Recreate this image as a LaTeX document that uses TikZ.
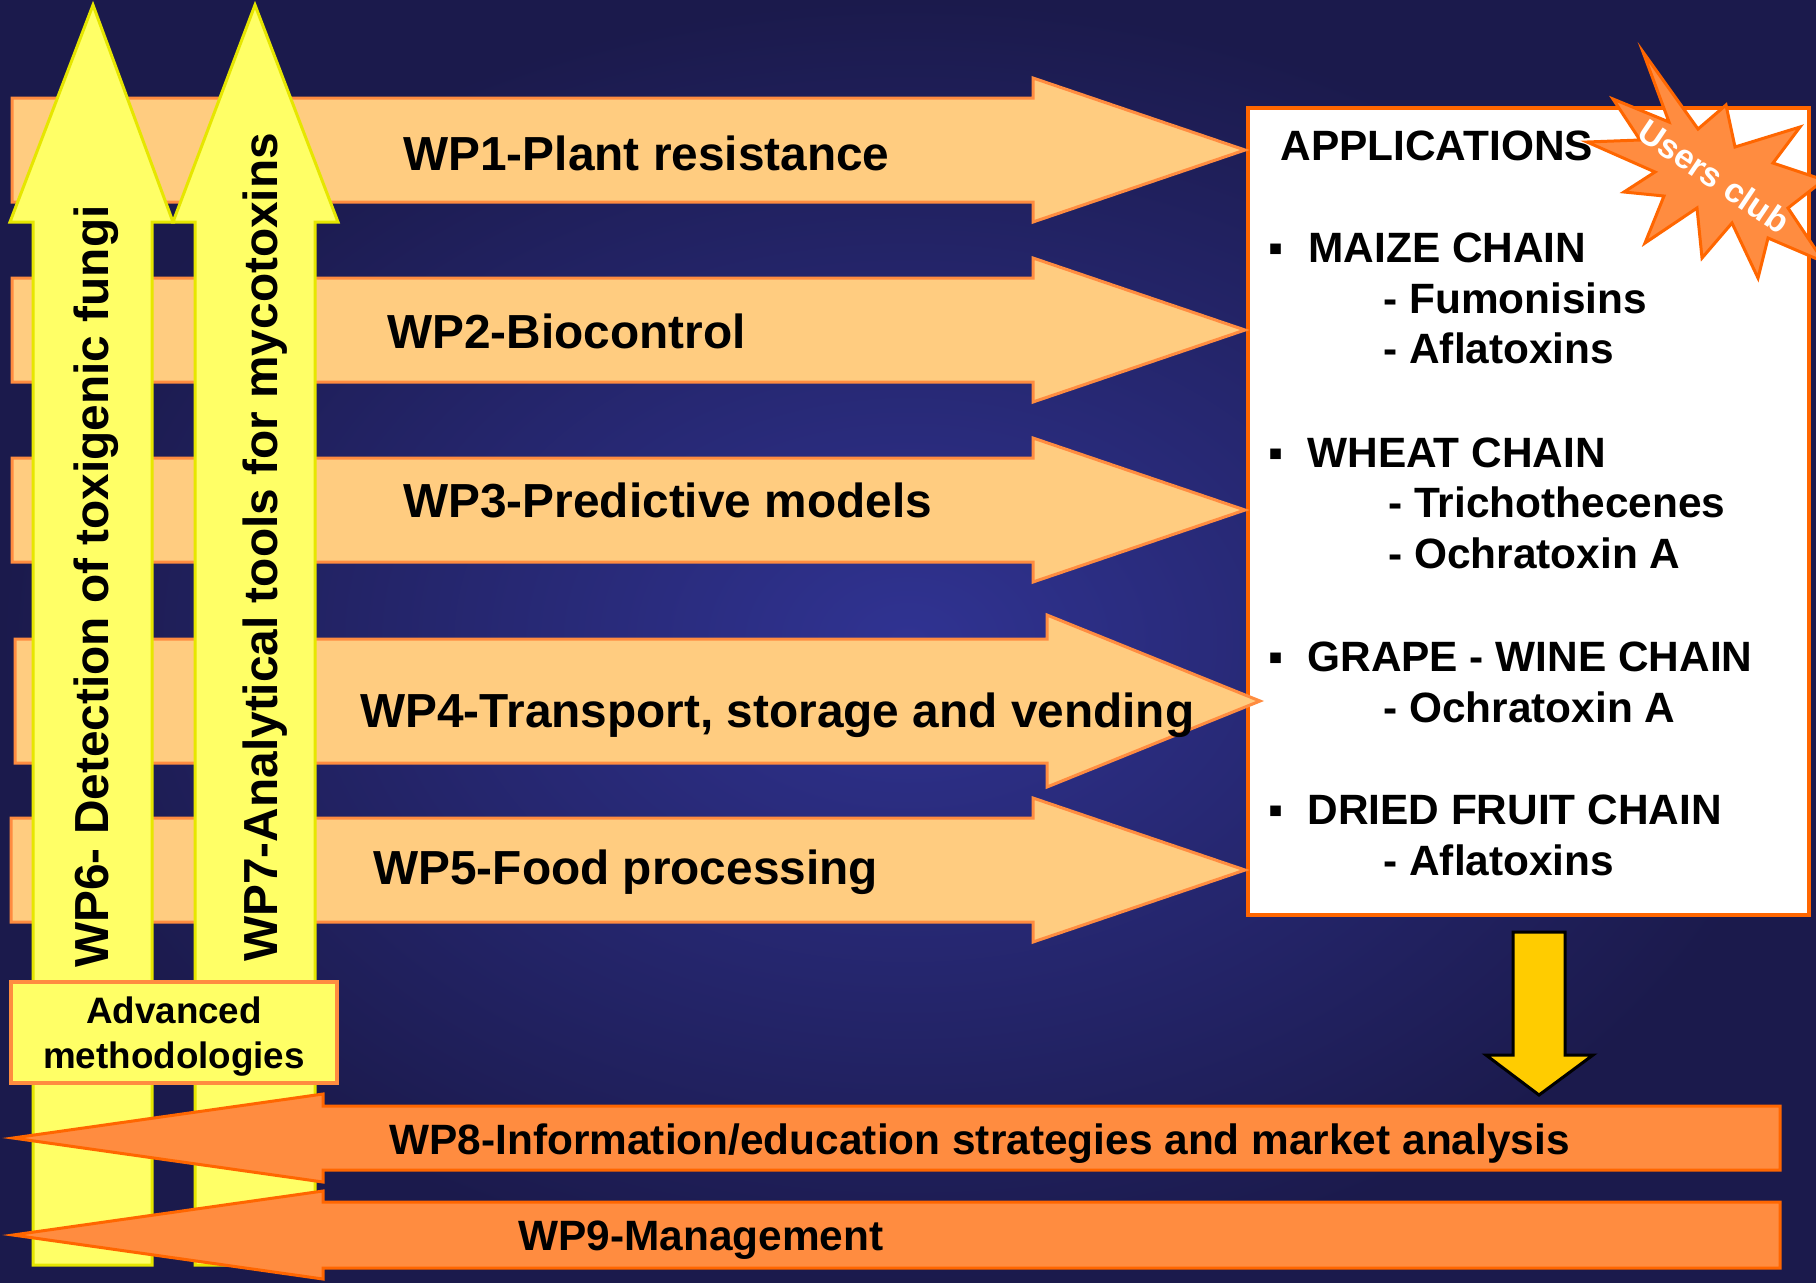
\documentclass[tikz,border=0pt]{standalone}
\usepackage{fontspec}
\setmainfont{Liberation Sans}
\usepackage{tikz}

\definecolor{bgInner}{RGB}{48,51,146}
\definecolor{bgOuter}{RGB}{27,26,76}
\definecolor{wpFill}{RGB}{255,204,128}
\definecolor{wpLine}{RGB}{255,140,64}
\definecolor{ylFill}{RGB}{255,255,102}
\definecolor{ylLine}{RGB}{230,230,0}
\definecolor{mgFill}{RGB}{255,140,64}
\definecolor{mgLine}{RGB}{255,102,0}
\definecolor{dnFill}{RGB}{255,204,0}

\tikzset{
  wparrow/.style={draw=wpLine, fill=wpFill, line width=1.5pt},
  ylarrow/.style={draw=ylLine, fill=ylFill, line width=1.5pt},
  mgarrow/.style={draw=mgLine, fill=mgFill, line width=1.5pt},
  wplabel/.style={font=\fontsize{23.9}{28}\selectfont\bfseries, anchor=base west, inner sep=0pt},
  applabel/.style={font=\fontsize{21.2}{25}\selectfont\bfseries, anchor=base west, inner sep=0pt},
  methlabel/.style={font=\fontsize{18.4}{22}\selectfont\bfseries, anchor=base, inner sep=0pt},
}

\begin{document}
\begin{tikzpicture}[x=0.5pt,y=0.5pt,yscale=-1,xscale=1]
\useasboundingbox (0,0) rectangle (1816,1282);

%Background [id:dp0001]
\draw [draw opacity=0][shading=radial, inner color=bgInner, outer color=bgOuter] (0,0) -- (1816,0) -- (1816,1282) -- (0,1282) -- cycle ;

%Shape: Rectangle [id:dp0002]
\draw [draw=mgLine, fill=white, line width=2pt] (1248,108) -- (1809,108) -- (1809,915) -- (1248,915) -- cycle ;

%Shape: Right Arrow [id:dp0003]
\draw [wparrow] (12,98) -- (1033,98) -- (1033,78) -- (1245,150) -- (1033,222) -- (1033,202) -- (12,202) -- cycle ;
%Shape: Right Arrow [id:dp0004]
\draw [wparrow] (12,278) -- (1033,278) -- (1033,258) -- (1245,330) -- (1033,402) -- (1033,382) -- (12,382) -- cycle ;
%Shape: Right Arrow [id:dp0005]
\draw [wparrow] (12,458) -- (1033,458) -- (1033,438) -- (1245,510) -- (1033,582) -- (1033,562) -- (12,562) -- cycle ;
%Shape: Right Arrow [id:dp0006]
\draw [wparrow] (15,639) -- (1047,639) -- (1047,615) -- (1260,701) -- (1047,787) -- (1047,763) -- (15,763) -- cycle ;
%Shape: Right Arrow [id:dp0007]
\draw [wparrow] (11,818) -- (1033,818) -- (1033,798) -- (1245,870) -- (1033,942) -- (1033,922) -- (11,922) -- cycle ;

% Text Node
\draw (403,170) node (wp1) [wplabel] {WP1-Plant resistance};
% Text Node
\draw (387,348) node (wp2) [wplabel] {WP2-Biocontrol};
% Text Node
\draw (403,517) node (wp3) [wplabel] {WP3-Predictive models};
% Text Node
\draw (360,727) node (wp4) [wplabel] {WP4-Transport, storage and vending};
% Text Node
\draw (373,884) node (wp5) [wplabel] {WP5-Food processing};

%Shape: Up Arrow [id:dp0008]
\draw [ylarrow] (93,5) -- (173,222) -- (152,222) -- (152,1265) -- (33,1265) -- (33,222) -- (10,222) -- cycle ;
%Shape: Up Arrow [id:dp0009]
\draw [ylarrow] (255,5) -- (338,222) -- (315,222) -- (315,1265) -- (195,1265) -- (195,222) -- (173,222) -- cycle ;

% Text Node
\draw (108,968) node (wp6) [wplabel, rotate=90] {WP6- Detection of toxigenic fungi};
% Text Node
\draw (277,962) node (wp7) [wplabel, rotate=90] {WP7-Analytical tools for mycotoxins};

%Shape: Rectangle [id:dp0010]
\draw [draw=wpLine, fill=ylFill, line width=2pt] (11,982) -- (337,982) -- (337,1083) -- (11,1083) -- cycle ;
% Text Node
\draw (174,1023) node (adv) [methlabel] {Advanced};
% Text Node
\draw (174,1068) node (meth) [methlabel] {methodologies};

%Shape: Left Arrow [id:dp0011]
\draw [mgarrow] (13,1138) -- (323,1094) -- (323,1106) -- (1780,1106) -- (1780,1170) -- (323,1170) -- (323,1182) -- cycle ;
%Shape: Left Arrow [id:dp0012]
\draw [mgarrow] (13,1235) -- (323,1191) -- (323,1202) -- (1780,1202) -- (1780,1268) -- (323,1268) -- (323,1279) -- cycle ;

% Text Node
\draw (389,1154) node (wp8) [applabel] {WP8-Information/education strategies and market analysis};
% Text Node
\draw (518,1250) node (wp9) [applabel] {WP9-Management};

%Shape: Down Arrow [id:dp0013]
\draw [draw=black, fill=dnFill, line width=1.5pt] (1513,932) -- (1565,932) -- (1565,1055) -- (1593,1055) -- (1539,1095) -- (1486,1055) -- (1513,1055) -- cycle ;

% Text Node
\draw (1280,160) node (apps) [applabel] {APPLICATIONS};
% Text Node
\draw (1268,262) node (b1) [applabel] {▪};
\draw (1308,262) node (maize) [applabel] {MAIZE CHAIN};
\draw (1383,313) node (fumo) [applabel] {- Fumonisins};
\draw (1383,363) node (afla1) [applabel] {- Aflatoxins};
% Text Node
\draw (1268,467) node (b2) [applabel] {▪};
\draw (1307,467) node (wheat) [applabel] {WHEAT CHAIN};
\draw (1388,517) node (tric) [applabel] {- Trichothecenes};
\draw (1388,568) node (ochr1) [applabel] {- Ochratoxin A};
% Text Node
\draw (1268,671) node (b3) [applabel] {▪};
\draw (1307,671) node (grape) [applabel] {GRAPE - WINE CHAIN};
\draw (1383,722) node (ochr2) [applabel] {- Ochratoxin A};
% Text Node
\draw (1268,824) node (b4) [applabel] {▪};
\draw (1307,824) node (dried) [applabel] {DRIED FRUIT CHAIN};
\draw (1383,875) node (afla2) [applabel] {- Aflatoxins};

%Shape: Explosion [id:dp0014]
\draw [mgarrow] (1643,52) -- (1698,129) -- (1726,105) -- (1735,147) -- (1800,127) -- (1773,163) -- (1824,180) -- (1788,208) -- (1824,262) -- (1768,238) -- (1758,278) -- (1732,223) -- (1702,258) -- (1697,208) -- (1645,243) -- (1664,196) -- (1624,192) -- (1655,172) -- (1587,142) -- (1640,140) -- (1613,99) -- (1669,122) -- cycle ;
% Text Node
\draw (1714,176) node (club) [font=\fontsize{17}{20}\selectfont\bfseries, text=white, rotate=-34, inner sep=0pt] {Users club};

\end{tikzpicture}
\end{document}
